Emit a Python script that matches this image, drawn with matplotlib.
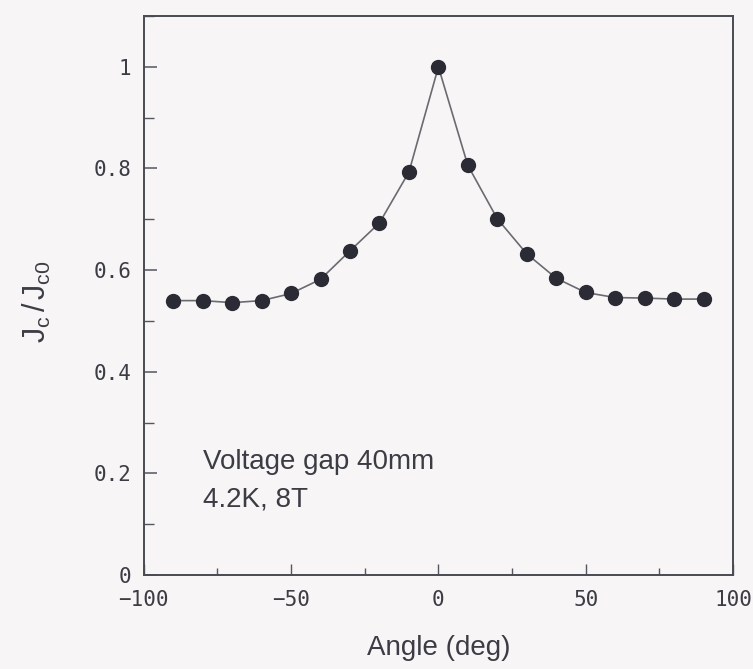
import matplotlib
matplotlib.use("Agg")
from matplotlib import pyplot as plt
from matplotlib.ticker import MultipleLocator, FixedLocator

# angular dependence of normalised critical current
angle = [-90, -80, -70, -60, -50, -40, -30, -20, -10, 0,
         10, 20, 30, 40, 50, 60, 70, 80, 90]
jc_ratio = [0.540, 0.540, 0.536, 0.540, 0.554, 0.582, 0.638, 0.693, 0.793, 1.000,
            0.806, 0.701, 0.632, 0.584, 0.556, 0.546, 0.545, 0.543, 0.543]

x_ticks = [-100, -50, 0, 50, 100]
y_ticks = [0, 0.2, 0.4, 0.6, 0.8, 1]
y_tick_labels = ["0", "0.2", "0.4", "0.6", "0.8", "1"]
note_lines = ["Voltage gap 40mm", "4.2K, 8T"]

bg = "#f8f5f7"
ink = "#3c3c44"

plt.rcParams["mathtext.fontset"] = "custom"
plt.rcParams["mathtext.rm"] = "Liberation Sans"
plt.rcParams["mathtext.it"] = "Liberation Sans"

fig = plt.figure(figsize=(7.53, 6.69), dpi=100, facecolor=bg)
ax = fig.add_axes([0.191, 0.1405, 0.7824, 0.8355], facecolor=bg)

ax.plot(angle, jc_ratio, color="#6a6a70", lw=1.2, zorder=2)
ax.plot(angle, jc_ratio, "o", color="#2b2b36", ms=10, mec="#2b2b36", zorder=3)

ax.set_xlim(-100, 100)
ax.set_ylim(0, 1.1)

ax.xaxis.set_major_locator(FixedLocator(x_ticks))
ax.xaxis.set_minor_locator(MultipleLocator(25))
ax.yaxis.set_major_locator(FixedLocator(y_ticks))
ax.yaxis.set_minor_locator(MultipleLocator(0.1))
ax.set_xticklabels(["\u2212100", "\u221250", "0", "50", "100"])
ax.set_yticklabels(y_tick_labels)

ax.tick_params(which="both", direction="in", top=False, right=False,
               colors="#555560", labelcolor=ink)
ax.tick_params(axis="y", which="major", length=9, width=1.1, pad=9)
ax.tick_params(axis="y", which="minor", length=7, width=1.0)
ax.tick_params(axis="x", which="major", length=8, width=1.0, pad=11)
ax.tick_params(axis="x", which="minor", length=5, width=1.0)
for lab in ax.get_xticklabels() + ax.get_yticklabels():
    lab.set_family("DejaVu Sans Mono")
    lab.set_fontsize(15)

for sp in ax.spines.values():
    sp.set_color("#4a4a52")
    sp.set_linewidth(1.4)

ax.set_xlabel("Angle (deg)", family="Liberation Sans", fontsize=20,
              color=ink, labelpad=18)
ax.set_ylabel(r"$J_c\,/\,J_{c0}$", fontsize=22, color=ink)
ax.yaxis.set_label_coords(-0.155, 0.49)

ax.text(-80, 0.222, note_lines[0], family="Liberation Sans", fontsize=20,
        color=ink, va="center", ha="left")
ax.text(-80, 0.148, note_lines[1], family="Liberation Sans", fontsize=20,
        color=ink, va="center", ha="left")

fig.savefig("out.png", dpi=100, facecolor=bg)
